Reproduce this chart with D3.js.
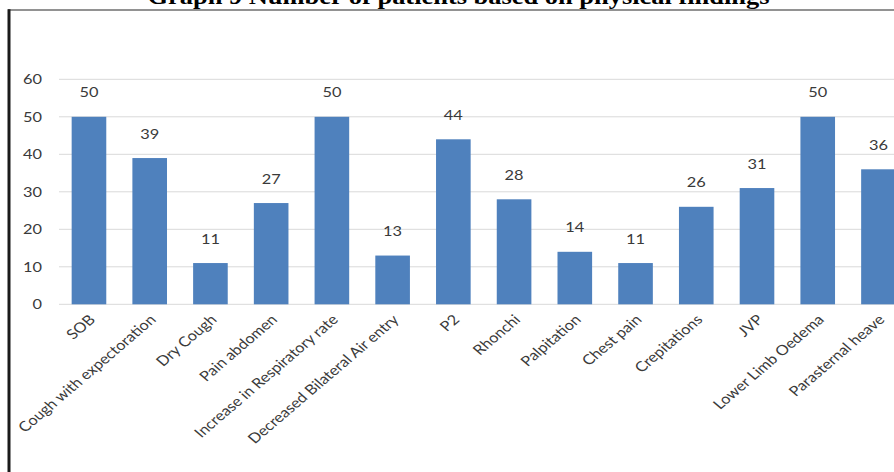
<!DOCTYPE html>
<html>
<head>
<meta charset="utf-8">
<script src="https://cdn.jsdelivr.net/npm/d3@7"></script>
<style>
  html, body { margin: 0; padding: 0; background: #fff; }
  svg { display: block; }
</style>
</head>
<body>
<svg id="chart" width="894" height="472"></svg>
<script>
// Physical findings and number of patients for each
const categories = [
  "SOB", "Cough with expectoration", "Dry Cough", "Pain abdomen",
  "Increase in Respiratory rate", "Decreased Bilateral Air entry", "P2",
  "Rhonchi", "Palpitation", "Chest pain", "Crepitations", "JVP",
  "Lower Limb Oedema", "Parasternal heave"
];
const patients = [50, 39, 11, 27, 50, 13, 44, 28, 14, 11, 26, 31, 50, 36];
const yTicks = [0, 10, 20, 30, 40, 50, 60];
const titleText = "Graph 9 Number of patients based on physical findings";

const svg = d3.select("#chart");
const W = 894, H = 472;
const stretch = 1.17;            // horizontal widening of all lettering
const labelFont = "Lato, 'Open Sans', sans-serif";
const labelSize = 14;
const barColor = "#4f81bd";
const textColor = "#3a3a3a";

const plotLeft = 58.6, step = 60.73;
const x = d3.scaleBand()
  .domain(categories)
  .range([plotLeft, plotLeft + step * categories.length])
  .paddingInner(0.43)
  .paddingOuter(0.215);
const y = d3.scaleLinear().domain([0, 60]).range([304.3, 79.3]);

// Title (runs off the top edge)
svg.append("text")
  .attr("transform", `translate(458.5,4) scale(${stretch},1)`)
  .attr("text-anchor", "middle")
  .attr("font-family", "'Liberation Serif', 'Times New Roman', serif")
  .attr("font-weight", "bold")
  .attr("font-size", 22.6)
  .attr("fill", "#000")
  .text(titleText);

// Frame around the chart area
svg.append("line")
  .attr("x1", 8).attr("x2", W).attr("y1", 10).attr("y2", 10)
  .attr("stroke", "#6e6e6e").attr("stroke-width", 1.6);
svg.append("line")
  .attr("x1", 9).attr("x2", 9).attr("y1", 9.2).attr("y2", H)
  .attr("stroke", "#1a1a1a").attr("stroke-width", 3);

// Horizontal gridlines
svg.append("g")
  .selectAll("line")
  .data(yTicks)
  .join("line")
  .attr("x1", 59).attr("x2", W)
  .attr("y1", d => y(d)).attr("y2", d => y(d))
  .attr("stroke", "#d9d9d9").attr("stroke-width", 1);

// Y axis tick labels
svg.append("g")
  .selectAll("text")
  .data(yTicks)
  .join("text")
  .attr("transform", d => `translate(42,${y(d)}) scale(${stretch},1)`)
  .attr("dy", "0.36em")
  .attr("text-anchor", "end")
  .attr("font-family", labelFont)
  .attr("font-size", labelSize)
  .attr("fill", textColor)
  .text(d => d);

// Bars
svg.append("g")
  .selectAll("rect")
  .data(patients)
  .join("rect")
  .attr("x", (d, i) => x(categories[i]))
  .attr("width", x.bandwidth())
  .attr("y", d => y(d))
  .attr("height", d => y(0) - y(d))
  .attr("fill", barColor);

// Value labels above the bars
svg.append("g")
  .selectAll("text")
  .data(patients)
  .join("text")
  .attr("transform", (d, i) =>
    `translate(${x(categories[i]) + x.bandwidth() / 2},${y(d) - 19.5}) scale(${stretch},1)`)
  .attr("text-anchor", "middle")
  .attr("font-family", labelFont)
  .attr("font-size", labelSize)
  .attr("fill", textColor)
  .text(d => d);

// Rotated category labels
svg.append("g")
  .selectAll("text")
  .data(categories)
  .join("text")
  .attr("transform", d =>
    `translate(${x(d) + x.bandwidth() / 2 + 3},317) scale(${stretch},1) rotate(-45)`)
  .attr("dy", "0.36em")
  .attr("text-anchor", "end")
  .attr("font-family", labelFont)
  .attr("font-size", labelSize)
  .attr("fill", textColor)
  .text(d => d);
</script>
</body>
</html>
